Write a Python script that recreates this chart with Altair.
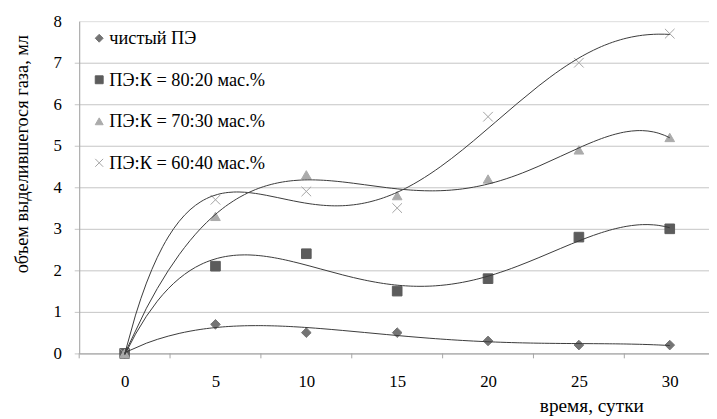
import altair as alt
import pandas as pd

days = [0, 5, 10, 15, 20, 25, 30]
series_names = ["чистый ПЭ", "ПЭ:К = 80:20 мас.%", "ПЭ:К = 70:30 мас.%", "ПЭ:К = 60:40 мас.%"]
pe_pure = [0, 0.7, 0.5, 0.5, 0.3, 0.2, 0.2]
pe_80 = [0, 2.1, 2.4, 1.5, 1.8, 2.8, 3.0]
pe_70 = [0, 3.3, 4.3, 3.8, 4.2, 4.9, 5.2]
pe_60 = [0, 3.7, 3.9, 3.5, 5.7, 7.0, 7.7]
trend_orders = [4, 4, 5, 5]
x_tick_labels = [0, 5, 10, 15, 20, 25, 30]
x_tick_marks = [-2.5, 2.5, 7.5, 12.5, 17.5, 22.5, 27.5]
y_ticks = [0, 1, 2, 3, 4, 5, 6, 7, 8]

colors = ["#747474", "#5c5c5c", "#ababab", "#a3a3a3"]
shapes = ["diamond", "square", "triangle-up", "M-1,-1L1,1M-1,1L1,-1"]

rows = []
for name, vals in zip(series_names, [pe_pure, pe_80, pe_70, pe_60]):
    for d, v in zip(days, vals):
        rows.append({"day": d, "value": v, "series": name})
df = pd.DataFrame(rows)
ticks_df = pd.DataFrame({"t": x_tick_marks})

FONT = "Liberation Serif"
W, H = 637, 336

xscale = alt.Scale(domain=[-2.5, 32.16], nice=False, zero=False)
yscale = alt.Scale(domain=[0, 8], nice=False)

grid_color = {"condition": {"test": "datum.value >= 8", "value": "transparent"}, "value": "#c4c4c4"}

xaxis = alt.Axis(values=x_tick_labels, ticks=False, grid=False, labelPadding=20,
                 labelFont=FONT, labelFontSize=17, labelColor="#000000",
                 domainColor="#a6a6a6", title="время, сутки", titleFont=FONT,
                 titleFontSize=19.5, titleFontWeight="normal", titleColor="#000000",
                 titleX=518, titleY=59, titleBaseline="alphabetic", titleAnchor="middle")
yaxis = alt.Axis(values=y_ticks, grid=True, gridColor=grid_color, tickColor=grid_color,
                 tickSize=5, labelPadding=13, labelFont=FONT, labelFontSize=17,
                 labelColor="#000000", domainColor="#a6a6a6",
                 title="объем выделившегося газа, мл", titleFont=FONT, titleFontSize=18.5,
                 titleFontWeight="normal", titleColor="#000000",
                 titleX=-52, titleY=134, titleBaseline="alphabetic", titleAngle=270)

base = alt.Chart(df)

points = base.mark_point(filled=True, size=95, strokeWidth=1, opacity=1).encode(
    x=alt.X("day:Q", scale=xscale, axis=xaxis),
    y=alt.Y("value:Q", scale=yscale, axis=yaxis),
    color=alt.Color("series:N", scale=alt.Scale(domain=series_names, range=colors),
                    legend=alt.Legend(title=None, orient="none", legendX=11, legendY=8,
                                      labelFont=FONT, labelFontSize=18.5, labelColor="#000000",
                                      rowPadding=23, symbolSize=64, labelOffset=1,
                                      padding=0, symbolStrokeWidth=1, labelLimit=400)),
    stroke=alt.Stroke("series:N", scale=alt.Scale(domain=series_names, range=colors)),
    shape=alt.Shape("series:N", scale=alt.Scale(domain=series_names, range=shapes)),
)

trends = []
for name, order in zip(series_names, trend_orders):
    trends.append(
        base.transform_filter(alt.datum.series == name)
        .transform_regression("day", "value", method="poly", order=order)
        .mark_line(color="#3a3a3a", strokeWidth=1)
        .encode(x=alt.X("day:Q", scale=xscale), y=alt.Y("value:Q", scale=yscale))
    )

xticks = alt.Chart(ticks_df).mark_rule(color="#a6a6a6", strokeWidth=1).encode(
    x=alt.X("t:Q", scale=xscale),
    y=alt.value(H),
    y2=alt.value(H + 5),
)

chart = alt.layer(xticks, points, *trends).properties(
    width=W, height=H,
    autosize=alt.AutoSizeParams(type="none"),
    padding={"left": 72, "top": 11, "right": 0, "bottom": 63},
).configure_view(stroke=None).configure(background="white")

chart.save("out.html", embed_options={"renderer": "svg", "actions": False})
